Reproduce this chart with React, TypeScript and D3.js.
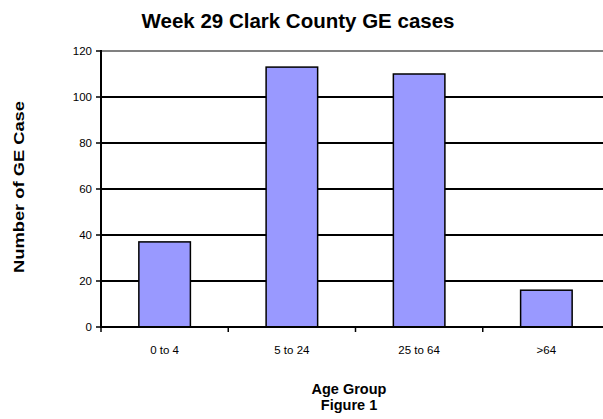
import React from "react";
import * as d3 from "d3";

const categories = ["0 to 4", "5 to 24", "25 to 64", ">64"];
const cases = [37, 113, 110, 16];
const yTicks = [0, 20, 40, 60, 80, 100, 120];

const title = "Week 29 Clark County GE cases";
const yTitle = "Number of GE Case";
const xTitle = "Age Group";
const caption = "Figure 1";

export default function App() {
  const W = 603, H = 419;
  const left = 101, right = 610, top = 51, bottom = 327;
  const x = d3.scaleBand<string>().domain(categories).range([left, right]).padding(0);
  const y = d3.scaleLinear().domain([0, 120]).range([bottom, top]);
  const bw = x.bandwidth() * 0.405;
  const font = "Arial, 'Liberation Sans', sans-serif";
  return (
    <svg width={W} height={H} style={{ position: "absolute", left: 0, top: 0, background: "#fff" }} fontFamily={font}>
      <text x={298} y={28} textAnchor="middle" fontSize={20.5} fontWeight="bold">{title}</text>
      {yTicks.map((t) => (
        <g key={t}>
          {t > 0 && (
            <line x1={left} x2={W} y1={y(t)} y2={y(t)} stroke={t === 120 ? "#808080" : "#000"} strokeWidth={2} />
          )}
          <line x1={left - 5} x2={left} y1={y(t)} y2={y(t)} stroke="#000" strokeWidth={1.5} />
          <text x={left - 9} y={y(t) + 4} textAnchor="end" fontSize={11.5}>{t}</text>
        </g>
      ))}
      {categories.map((c, i) => (
        <g key={c}>
          <rect x={(x(c) as number) + (x.bandwidth() - bw) / 2} y={y(cases[i])} width={bw} height={y(0) - y(cases[i])} fill="#9999FF" stroke="#000" strokeWidth={1.5} />
          <line x1={x(c) as number} x2={x(c) as number} y1={bottom} y2={bottom + 5} stroke="#000" strokeWidth={1.5} />
          <text x={(x(c) as number) + x.bandwidth() / 2} y={bottom + 27} textAnchor="middle" fontSize={11.5}>{c}</text>
        </g>
      ))}
      <line x1={left} x2={left} y1={top - 1} y2={bottom + 1} stroke="#000" strokeWidth={2} />
      <line x1={left} x2={W} y1={bottom} y2={bottom} stroke="#000" strokeWidth={2} />
      <text transform={`translate(24,187) rotate(-90)`} textAnchor="middle" fontSize={14} fontWeight="bold" textLength={172} lengthAdjust="spacingAndGlyphs">{yTitle}</text>
      <text x={349} y={394} textAnchor="middle" fontSize={14.5} fontWeight="bold">{xTitle}</text>
      <text x={349} y={410} textAnchor="middle" fontSize={14.5} fontWeight="bold">{caption}</text>
    </svg>
  );
}
